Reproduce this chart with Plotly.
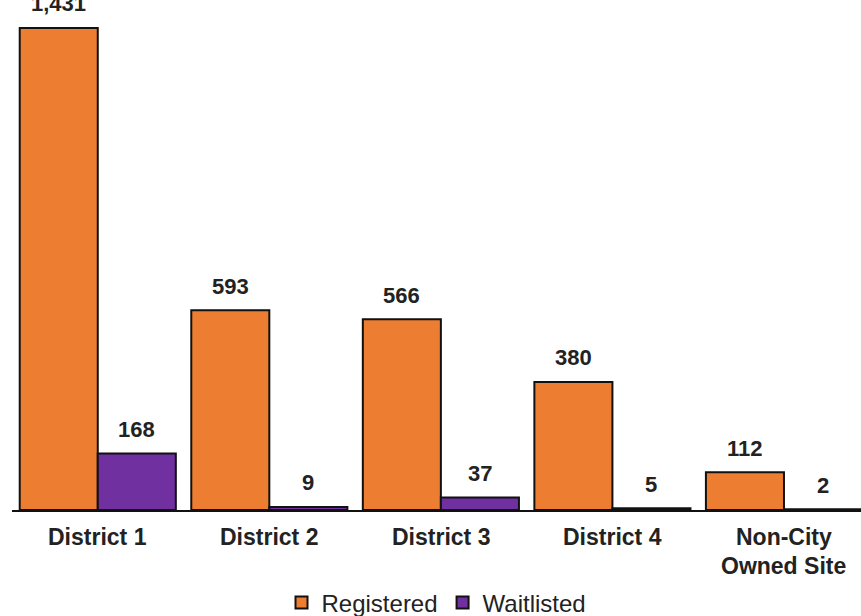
import plotly.graph_objects as go

# Enrollment by site
categories = ["District 1", "District 2", "District 3", "District 4", "Non-City<br>Owned Site"]
registered = [1431, 593, 566, 380, 112]
waitlisted = [168, 9, 37, 5, 2]

ORANGE = "#ED7D31"
PURPLE = "#7030A0"
FONT = "Liberation Sans, Arial, sans-serif"
TEXT = "#222222"

BARGAP = 0.09
half = (1 - BARGAP) / 4  # offset from category centre to each bar's centre

idx = list(range(len(categories)))

fig = go.Figure()
fig.add_bar(x=idx, y=registered, name="Registered",
            marker=dict(color=ORANGE, line=dict(color="#111111", width=2)))
fig.add_bar(x=idx, y=waitlisted, name="Waitlisted",
            marker=dict(color=PURPLE, line=dict(color="#111111", width=2)))

annotations = []
# value labels above each bar
for i, (r, w) in enumerate(zip(registered, waitlisted)):
    for xv, v in ((i - half, r), (i + half, w)):
        annotations.append(dict(
            x=xv, y=v, xref="x", yref="y", text=f"<b>{v:,}</b>",
            showarrow=False, yanchor="middle", yshift=24,
            font=dict(family=FONT, size=22, color=TEXT)))

# category labels under the axis, one annotation per line
for i, cat in enumerate(categories):
    for k, line in enumerate(cat.split("<br>")):
        annotations.append(dict(
            x=i, y=0, xref="x", yref="y", text=f"<b>{line}</b>",
            showarrow=False, yanchor="middle", yshift=-27 - 29 * k,
            font=dict(family=FONT, size=23, color=TEXT)))

fig.update_layout(
    width=861, height=616,
    margin=dict(l=12, r=0, t=0, b=106, autoexpand=False),
    paper_bgcolor="white", plot_bgcolor="white",
    barmode="group", bargap=BARGAP, bargroupgap=0,
    showlegend=True,
    legend=dict(orientation="h", x=0.5, xanchor="center", y=-0.182, yanchor="middle",
                font=dict(family=FONT, size=24, color=TEXT),
                itemwidth=30, traceorder="normal"),
    xaxis=dict(range=[-0.5, 4.449], showticklabels=False, showgrid=False,
               zeroline=False, showline=True, linecolor="#111111", linewidth=2,
               ticks=""),
    yaxis=dict(range=[0, 1514], visible=False, showgrid=False, zeroline=False),
    annotations=annotations,
)

fig.write_html("out.html")
